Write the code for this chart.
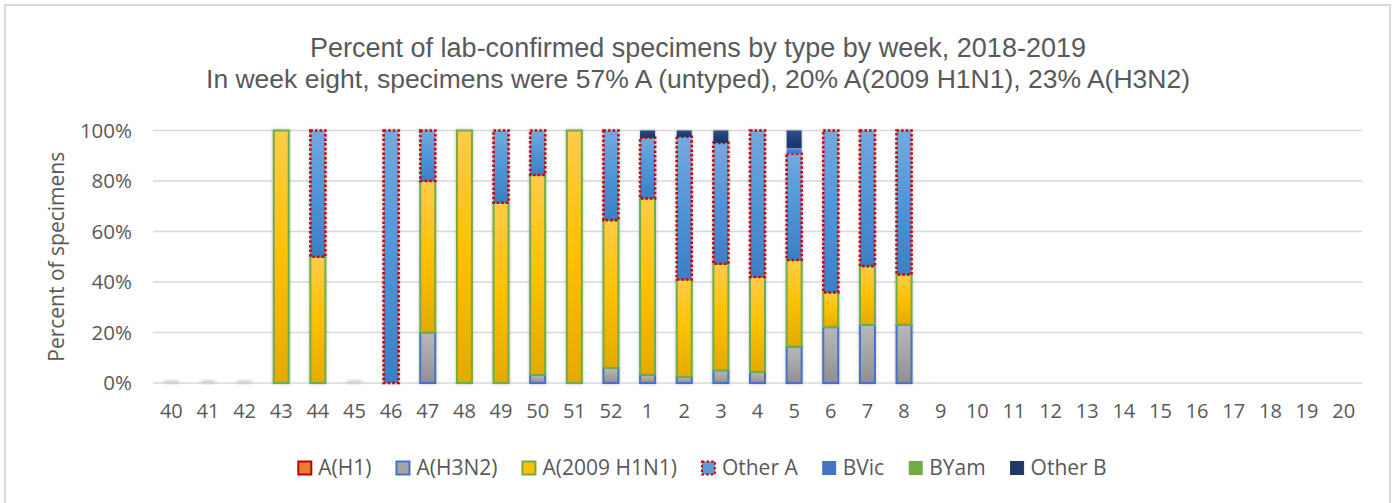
<html>
  <head>
    <script src="https://cdn.jsdelivr.net/npm/d3@7"></script>
    <style>
      * {
        margin: 0;
        padding: 0;
      }
      body {
        background: white;
        font-family: "Open Sans", sans-serif;
      }
      text {
        fill: #595959;
      }
      .title {
        font-family: "Liberation Sans", Arial, sans-serif;
      }
      .grid line {
        stroke: #d9d9d9;
        stroke-width: 1.5px;
      }
    </style>
  </head>
  <body>
    <div id="chart"></div>
    <script>
      // weeks of the 2018-2019 season
      const weeks = [
        "40", "41", "42", "43", "44", "45", "46", "47", "48", "49", "50", "51", "52",
        "1", "2", "3", "4", "5", "6", "7", "8", "9", "10", "11", "12", "13", "14",
        "15", "16", "17", "18", "19", "20",
      ];
      const N = null;
      // percent of specimens, null = no data yet
      const aH1 = [0, 0, 0, 0, 0, 0, 0, 0, 0, 0, 0, 0, 0, 0, 0, 0, 0, 0, 0, 0, 0, N, N, N, N, N, N, N, N, N, N, N, N];
      const aH3N2 = [0, 0, 0, 0, 0, 0, 0, 20, 0, 0, 3.2, 0, 6, 3.3, 2.4, 5, 4.4, 14.4, 22.1, 23, 23, N, N, N, N, N, N, N, N, N, N, N, N];
      const aH1N1 = [0, 0, 0, 100, 50, 0, 0, 60, 100, 71.4, 79.2, 100, 58.5, 69.8, 38.6, 42.2, 37.6, 34.3, 13.8, 23.3, 20, N, N, N, N, N, N, N, N, N, N, N, N];
      const otherA = [0, 0, 0, 0, 50, 0, 100, 20, 0, 28.6, 17.6, 0, 35.5, 24, 56.5, 47.9, 58, 42.1, 64.1, 53.7, 57, N, N, N, N, N, N, N, N, N, N, N, N];
      const bVic = [0, 0, 0, 0, 0, 0, 0, 0, 0, 0, 0, 0, 0, 0, 0, 0, 0, 2.3, 0, 0, 0, N, N, N, N, N, N, N, N, N, N, N, N];
      const bYam = [0, 0, 0, 0, 0, 0, 0, 0, 0, 0, 0, 0, 0, 0, 0, 0, 0, 0, 0, 0, 0, N, N, N, N, N, N, N, N, N, N, N, N];
      const otherB = [0, 0, 0, 0, 0, 0, 0, 0, 0, 0, 0, 0, 0, 2.9, 2.5, 4.9, 0, 6.9, 0, 0, 0, N, N, N, N, N, N, N, N, N, N, N, N];

      const seriesNames = ["A(H1)", "A(H3N2)", "A(2009 H1N1)", "Other A", "BVic", "BYam", "Other B"];
      const seriesValues = [aH1, aH3N2, aH1N1, otherA, bVic, bYam, otherB];
      const yTicks = [0, 20, 40, 60, 80, 100];

      const titleLines = [
        "Percent of lab-confirmed specimens by type by week, 2018-2019",
        "In week eight, specimens were 57% A (untyped), 20% A(2009 H1N1), 23% A(H3N2)",
      ];

      // look of each series: fill gradient stops and border
      const styles = {
        "A(H1)": { stops: ["#f29a5e", "#ed7d31", "#d26a22"], stroke: "#c00000", dash: null, legend: "#ed7d31" },
        "A(H3N2)": { stops: ["#b8b8b8", "#a5a5a5", "#8f8f8f"], stroke: "#4472c4", dash: null, legend: "#a5a5a5" },
        "A(2009 H1N1)": { stops: ["#ffcc4a", "#ffc000", "#e3aa00"], stroke: "#70ad47", dash: null, legend: "#ffc000" },
        "Other A": { stops: ["#75a9df", "#5095d8", "#3d7ec4"], stroke: "#d00000", dash: "2.5 2.1", legend: "#5b9bd5" },
        BVic: { stops: ["#6b93dc", "#4a7ed0", "#3f6fbf"], stroke: null, dash: null, legend: "#4472c4" },
        BYam: { stops: ["#8cc46a", "#70ad47", "#5f9a3a"], stroke: null, dash: null, legend: "#70ad47" },
        "Other B": { stops: ["#2f4f8a", "#223f75", "#1a3363"], stroke: null, dash: null, legend: "#203864" },
      };

      const w = 1397;
      const h = 503;
      const plot = { left: 153, right: 1362, top: 130.5, bottom: 383 };

      const rows = weeks.map((wk, i) => {
        const row = { week: wk, hasData: aH1[i] !== null };
        seriesNames.forEach((s, j) => (row[s] = seriesValues[j][i] || 0));
        return row;
      });

      const svg = d3
        .select("#chart")
        .append("svg")
        .attr("width", w)
        .attr("height", h);

      const defs = svg.append("defs");
      seriesNames.forEach((s, j) => {
        const g = defs
          .append("linearGradient")
          .attr("id", "grad" + j)
          .attr("x1", 0)
          .attr("y1", 0)
          .attr("x2", 0)
          .attr("y2", 1);
        styles[s].stops.forEach((c, k) =>
          g.append("stop").attr("offset", k / 2).attr("stop-color", c)
        );
      });
      const shadow = defs
        .append("filter")
        .attr("id", "shadow")
        .attr("x", "-50%")
        .attr("y", "-50%")
        .attr("width", "200%")
        .attr("height", "200%");
      shadow
        .append("feDropShadow")
        .attr("dx", 0)
        .attr("dy", 0)
        .attr("stdDeviation", 1.6)
        .attr("flood-color", "#000")
        .attr("flood-opacity", 0.28);
      defs
        .append("filter")
        .attr("id", "blur")
        .append("feGaussianBlur")
        .attr("stdDeviation", 1.5);

      // chart frame
      svg
        .append("rect")
        .attr("x", 5)
        .attr("y", 5)
        .attr("width", 1385)
        .attr("height", 520)
        .attr("fill", "white")
        .attr("stroke", "#d9d9d9")
        .attr("stroke-width", 2);

      // two-line title
      svg
        .append("g")
        .selectAll("text")
        .data(titleLines)
        .enter()
        .append("text")
        .attr("class", "title")
        .attr("x", 698)
        .attr("y", (d, i) => 57 + i * 31)
        .attr("text-anchor", "middle")
        .style("font-size", (d, i) => (i === 0 ? "27px" : "26.5px"))
        .text((d) => d);

      const xScale = d3
        .scaleBand()
        .domain(weeks)
        .range([plot.left, plot.right]);
      const yScale = d3
        .scaleLinear()
        .domain([0, 100])
        .range([plot.bottom, plot.top]);
      const barW = 15;

      svg
        .append("g")
        .attr("class", "grid")
        .selectAll("line")
        .data(yTicks)
        .enter()
        .append("line")
        .attr("x1", plot.left)
        .attr("x2", plot.right)
        .attr("y1", (d) => yScale(d))
        .attr("y2", (d) => yScale(d));

      svg
        .append("g")
        .selectAll("text")
        .data(yTicks)
        .enter()
        .append("text")
        .attr("x", 132)
        .attr("y", (d) => yScale(d))
        .attr("dy", "0.36em")
        .attr("text-anchor", "end")
        .style("font-size", "20.5px")
        .text((d) => d + "%");

      svg
        .append("g")
        .selectAll("text")
        .data(weeks)
        .enter()
        .append("text")
        .attr("x", (d) => xScale(d) + xScale.bandwidth() / 2)
        .attr("y", 418)
        .attr("text-anchor", "middle")
        .style("font-size", "20px")
        .text((d) => d);

      svg
        .append("text")
        .attr("transform", "translate(64," + (plot.top + plot.bottom) / 2 + ") rotate(-90)")
        .attr("text-anchor", "middle")
        .style("font-size", "21px")
        .text("Percent of specimens");

      // faint shadow left by weeks with zero specimens
      svg
        .append("g")
        .selectAll("ellipse")
        .data(rows.filter((r) => r.hasData && d3.sum(seriesNames, (s) => r[s]) === 0))
        .enter()
        .append("ellipse")
        .attr("cx", (d) => xScale(d.week) + xScale.bandwidth() / 2)
        .attr("cy", yScale(0) - 1)
        .attr("rx", barW / 2 + 1)
        .attr("ry", 2.5)
        .attr("fill", "#bdbdbd")
        .attr("opacity", 0.6)
        .attr("filter", "url(#blur)");

      const stacked = d3.stack().keys(seriesNames)(rows.filter((r) => r.hasData));

      const layers = svg
        .append("g")
        .attr("filter", "url(#shadow)")
        .selectAll("g")
        .data(stacked)
        .enter()
        .append("g");

      layers
        .selectAll("rect")
        .data((d, j) => d.filter((p) => p[1] - p[0] > 0).map((p) => ({ p, j, key: d.key })))
        .enter()
        .append("rect")
        .attr("x", (d) => xScale(d.p.data.week) + (xScale.bandwidth() - barW) / 2)
        .attr("y", (d) => yScale(d.p[1]))
        .attr("width", barW)
        .attr("height", (d) => yScale(d.p[0]) - yScale(d.p[1]))
        .attr("fill", (d) => "url(#grad" + d.j + ")")
        .attr("stroke", (d) => styles[d.key].stroke || "none")
        .attr("stroke-width", (d) => (d.key === "Other A" ? 2.6 : 2))
        .attr("stroke-dasharray", (d) => styles[d.key].dash);

      // legend
      const legend = svg.append("g").attr("transform", "translate(0,475)");
      const items = legend
        .selectAll("g")
        .data(seriesNames)
        .enter()
        .append("g");
      items
        .append("text")
        .attr("x", 21)
        .style("font-size", "21px")
        .text((d) => d);
      const widths = [];
      items.selectAll("text").each(function () {
        widths.push(this.getComputedTextLength());
      });
      const gap = 24;
      const total = d3.sum(widths) + widths.length * 21 + (widths.length - 1) * gap;
      let cx = 702 - total / 2;
      items.attr("transform", (d, i) => {
        const t = "translate(" + cx + ",0)";
        cx += widths[i] + 21 + gap;
        return t;
      });
      items
        .append("rect")
        .attr("x", 1)
        .attr("y", -13.5)
        .attr("width", 13)
        .attr("height", 13)
        .attr("fill", (d) => styles[d].legend)
        .attr("stroke", (d) => (styles[d].stroke ? styles[d].stroke : styles[d].legend))
        .attr("stroke-width", (d) => (styles[d].stroke ? 2 : 1))
        .attr("stroke-dasharray", (d) => styles[d].dash);
    </script>
  </body>
</html>
